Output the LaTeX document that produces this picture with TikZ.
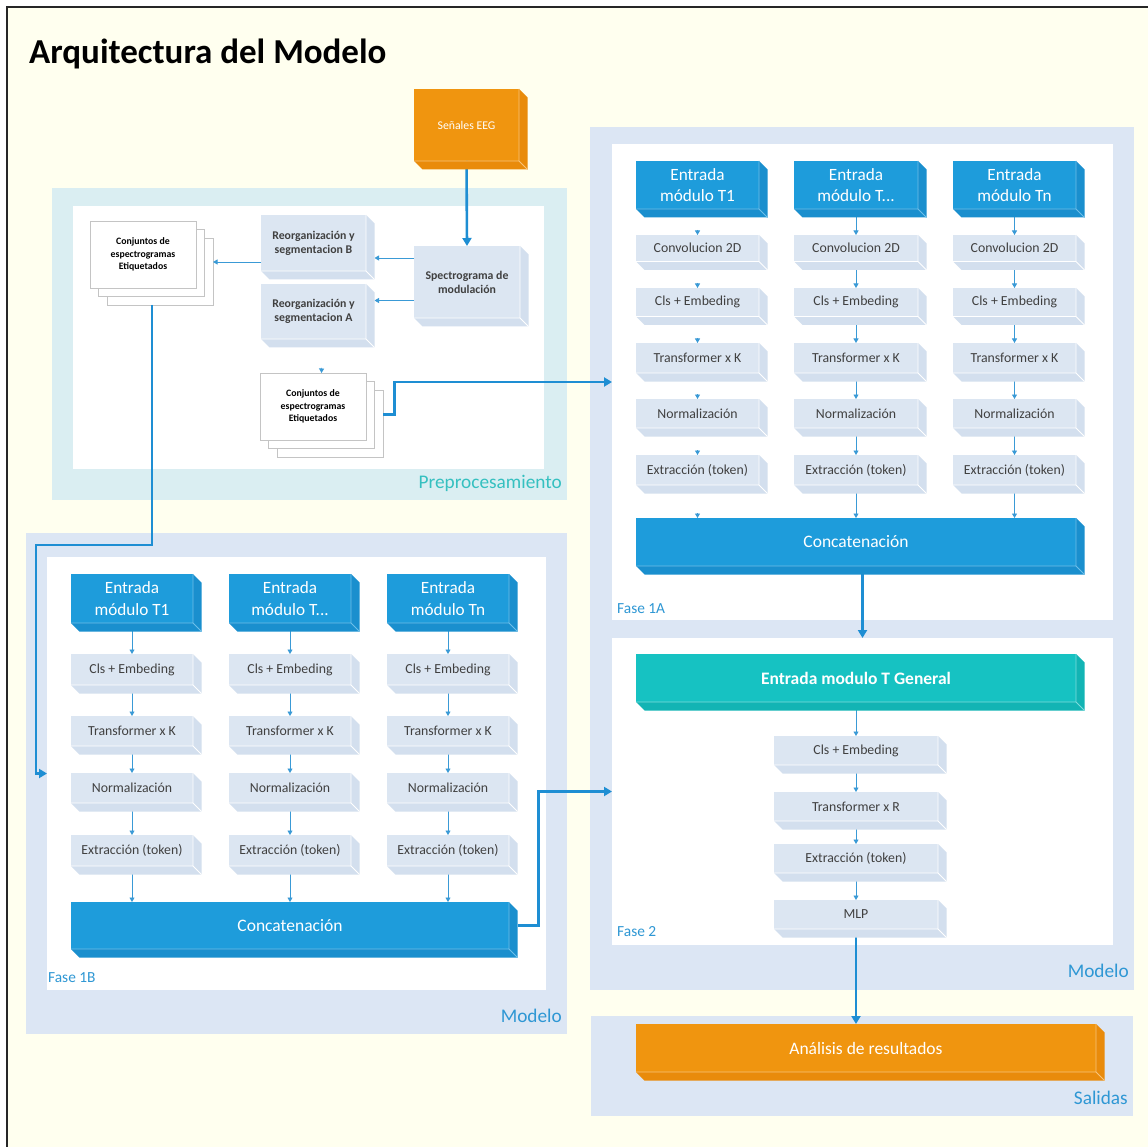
\documentclass[tikz,border=0pt]{standalone}
\usepackage{fontspec}
\setmainfont{Carlito}
\usetikzlibrary{arrows.meta,calc}

\definecolor{cream}{HTML}{FFFFEF}
\definecolor{panelblue}{HTML}{DCE6F4}
\definecolor{panelteal}{HTML}{DAEEF2}
\definecolor{lbfront}{HTML}{DCE6F2}
\definecolor{lbface}{HTML}{D3DFEE}
\definecolor{bfront}{HTML}{1E9CDB}
\definecolor{bface}{HTML}{1A8FCE}
\definecolor{bedge}{HTML}{6FBFE9}
\definecolor{ofront}{HTML}{F0950F}
\definecolor{oface}{HTML}{E98B0B}
\definecolor{oedge}{HTML}{F8C47C}
\definecolor{tfront}{HTML}{16C2C2}
\definecolor{tface}{HTML}{12B4B4}
\definecolor{tedge}{HTML}{7FDCDC}
\definecolor{arrowblue}{HTML}{1E8ED3}
\definecolor{thinblue}{HTML}{3A9AD6}
\definecolor{labelblue}{HTML}{2E97D4}
\definecolor{labelteal}{HTML}{35C0C0}
\definecolor{boxtext}{HTML}{404040}
\definecolor{sheetline}{HTML}{C4C4C4}

\tikzset{
  front/.style={rectangle, inner sep=0pt, outer sep=0pt, align=center},
  lightbox/.style={front, fill=lbfront, text=boxtext, font=\fontsize{13.8}{16}\selectfont},
  bluebox/.style={front, fill=bfront, text=white, font=\fontsize{17.2}{21.4}\selectfont},
  orangebox/.style={front, fill=ofront, text=white},
  tealbox/.style={front, fill=tfront, text=white, font=\fontsize{17.5}{21}\selectfont\bfseries},
  prebox/.style={front, fill=lbfront, text=boxtext, font=\fontsize{11.8}{14}\selectfont\bfseries},
  sheet/.style={fill=white, draw=sheetline, line width=0.7pt},
  sheetfront/.style={front, sheet, text=black, font=\fontsize{9.8}{12.3}\selectfont\bfseries},
  innerpanel/.style={front, fill=white},
  thinarr/.style={draw=thinblue, line width=0.9pt, -{Triangle[length=4.5pt,width=5pt]}},
  bigarr/.style={draw=arrowblue, line width=2.6pt, -{Triangle[length=8pt,width=9pt]}},
  tag/.style={inner sep=0pt},
  paneltag/.style={tag, text=labelblue, font=\fontsize{19.3}{23}\selectfont},
  phasetag/.style={tag, text=labelblue, font=\fontsize{15.4}{18}\selectfont},
}

% node given by its front-face corners: name, style, x0, y0, x1, y1, text
\newcommand\cornerbox[7]{%
  \node[#2, minimum width={(#5-(#3))*1pt}, minimum height={(#6-(#4))*1pt}]
    (#1) at ({(#3+#5)/2},{(#4+#6)/2}) {#7};}

% side and bottom faces of an extruded block
\newcommand\extrude[3]{%
  \fill[#2] (#1.north east) -- ++(8.5,8.5) -- ($(#1.south east)+(8.5,8.5)$)
    -- ($(#1.south west)+(8.5,8.5)$) -- (#1.south west) -- (#1.south east) -- cycle;
  \draw[#3, line width=0.8pt, line join=round] (#1.north east) -- (#1.south east)
    -- (#1.south west) (#1.south east) -- ++(8.5,8.5);}

\newcommand\tdots{T...}

\begin{document}
\begin{tikzpicture}[x=1pt,y=-1pt]
\useasboundingbox (0,0) rectangle (1148,1147);
\fill[white] (0,0) rectangle (1148,1147);
\fill[cream] (7,7) rectangle (1148,1147);
\draw[line width=1.8pt, black!85] (7,1147) -- (7,7) -- (1148,7);

% title
\node[anchor=base west, inner sep=0pt, font=\fontsize{35}{42}\selectfont\bfseries]
  (title) at (29,63.3) {Arquitectura del Modelo};

% ---------- panels ----------
\fill[panelteal] (52,188) rectangle (567,500);
\fill[white] (73,206) rectangle (544,469);
\node[anchor=base east, tag, text=labelteal, font=\fontsize{19.3}{23}\selectfont]
  (preTag) at (562,488.5) {Preprocesamiento};

\fill[panelblue] (26,533) rectangle (567,1034);
\cornerbox{f1b}{innerpanel}{47}{557}{546}{990}{}
\node[anchor=base west, phasetag] (f1bTag) at (48,982.5) {Fase 1B};
\node[anchor=base east, paneltag] (modelLTag) at (562,1022) {Modelo};

\fill[panelblue] (590,127) rectangle (1134,990);
\cornerbox{f1a}{innerpanel}{612}{144}{1113}{620}{}
\cornerbox{f2}{innerpanel}{612}{638}{1113}{945}{}
\node[anchor=base west, phasetag] (f1aTag) at (617,613) {Fase 1A};
\node[anchor=base west, phasetag] (f2Tag) at (617,936.5) {Fase 2};
\node[anchor=base east, paneltag] (modelRTag) at (1129,977.5) {Modelo};

\fill[panelblue] (591,1016) rectangle (1133,1116);
\node[anchor=base east, paneltag] (outTag) at (1128,1104) {Salidas};

% ---------- preprocessing ----------
\cornerbox{eeg}{orangebox, font=\fontsize{11.8}{14}\selectfont}{414}{89}{519}{161}{Señales EEG}
\cornerbox{spec}{prebox}{414}{246}{520}{318}{Spectrograma de\\modulación}
\cornerbox{rB}{prebox}{261}{215}{366}{271}{Reorganización y\\segmentacion B}
\cornerbox{rA}{prebox}{261}{284}{366}{339}{Reorganización y\\segmentacion A}
\draw[sheet] (107,238) rectangle (213,305);
\draw[sheet] (98.5,229.5) rectangle (204.5,296.5);
\cornerbox{cj1}{sheetfront}{90}{221}{196}{288}{Conjuntos de\\espectrogramas\\Etiquetados}
\draw[sheet] (277,390) rectangle (383,457);
\draw[sheet] (268.5,381.5) rectangle (374.5,448.5);
\cornerbox{cj2}{sheetfront}{260}{373}{366}{440}{Conjuntos de\\espectrogramas\\Etiquetados}

% ---------- phase 1A ----------
\foreach \c/\xa/\xb/\t in {1/636/759/T1,2/794/918/\tdots,3/953/1076/Tn}{
  \cornerbox{aE\c}{bluebox}{\xa}{161}{\xb}{209}{Entrada\\módulo \t}
  \cornerbox{aV\c}{lightbox}{\xa}{235}{\xb}{261.5}{Convolucion 2D}
  \cornerbox{aC\c}{lightbox}{\xa}{288}{\xb}{316.5}{Cls + Embeding}
  \cornerbox{aT\c}{lightbox}{\xa}{343}{\xb}{373}{Transformer x K}
  \cornerbox{aN\c}{lightbox}{\xa}{399}{\xb}{428}{Normalización}
  \cornerbox{aX\c}{lightbox}{\xa}{455}{\xb}{485}{Extracción (token)}
}
\cornerbox{aCat}{bluebox, font=\fontsize{17.5}{21}\selectfont}{636}{518}{1076}{566}{Concatenación}

% ---------- phase 1B ----------
\foreach \c/\xa/\xb/\t in {1/71/193/T1,2/229/351/\tdots,3/387/509/Tn}{
  \cornerbox{bE\c}{bluebox}{\xa}{574}{\xb}{623}{Entrada\\módulo \t}
  \cornerbox{bC\c}{lightbox}{\xa}{654}{\xb}{685}{Cls + Embeding}
  \cornerbox{bT\c}{lightbox}{\xa}{716}{\xb}{746}{Transformer x K}
  \cornerbox{bN\c}{lightbox}{\xa}{773}{\xb}{803}{Normalización}
  \cornerbox{bX\c}{lightbox}{\xa}{835}{\xb}{866}{Extracción (token)}
}
\cornerbox{bCat}{bluebox, font=\fontsize{17.5}{21}\selectfont}{71}{902}{509}{949}{Concatenación}

% ---------- phase 2 ----------
\cornerbox{tg}{tealbox}{636}{654}{1076}{702}{Entrada modulo T General}
\cornerbox{f2c}{lightbox}{774}{736}{938}{765}{Cls + Embeding}
\cornerbox{f2t}{lightbox}{774}{792}{938}{821}{Transformer x R}
\cornerbox{f2x}{lightbox}{774}{844}{938}{873}{Extracción (token)}
\cornerbox{mlp}{lightbox}{774}{900}{938}{929}{MLP}

% ---------- outputs ----------
\cornerbox{an}{orangebox, font=\fontsize{17.5}{21}\selectfont}{636}{1024}{1096}{1072}{Análisis de resultados}

% ---------- connectors ----------
\draw[bigarr] (eeg.south) -- (spec.north);
\draw[thinarr] ($(spec.west)+(0,-24)$) -- ($(rB.east)+(8.5,15)$);
\draw[thinarr] ($(spec.west)+(0,18.5)$) -- ($(rA.east)+(8.5,-11)$);
\draw[thinarr] ($(rB.west)+(0,19)$) -- ($(cj1.east)+(17,7.5)$);
\draw[thinarr, shorten <=20.5pt] ($(rA.south)+(8.5,8.5)$) -- ($(cj2.north)+(8.5,0)$);

\draw[bigarr] ($(cj2.east)+(17,8)$) -- ++(11.5,0) |- (f1a.west);
\draw[bigarr] ($(cj1.south)+(9,17)$) |- ($(f1b.west)+(-11,-228.5)$) |- (f1b.west);
\draw[bigarr] ($(bCat.east)+(8.5,0)$) -| ($(f2.west)+(-73.5,0)$) -- (f2.west);
\draw[bigarr] (aCat.south -| f2.north) -- (f2.north);
\draw[bigarr] (mlp.south) -- (mlp.south |- an.north);

% phase 1A, first column: only the heads show
\draw[thinarr, shorten <=21pt] (aE1.south) -- (aV1.north);
\draw[thinarr, shorten <=21.5pt] (aV1.south) -- (aC1.north);
\draw[thinarr, shorten <=21.5pt] (aC1.south) -- (aT1.north);
\draw[thinarr, shorten <=21pt] (aT1.south) -- (aN1.north);
\draw[thinarr, shorten <=22pt] (aN1.south) -- (aX1.north);
\draw[thinarr, shorten <=28pt] (aX1.south) -- (aX1.south |- aCat.north);
\foreach \c in {2,3}{
  \draw[thinarr] (aE\c.south) -- (aV\c.north);
  \draw[thinarr] (aV\c.south) -- (aC\c.north);
  \draw[thinarr] (aC\c.south) -- (aT\c.north);
  \draw[thinarr] (aT\c.south) -- (aN\c.north);
  \draw[thinarr] (aN\c.south) -- (aX\c.north);
  \draw[thinarr] (aX\c.south) -- (aX\c.south |- aCat.north);
}
\foreach \c in {1,2,3}{
  \draw[thinarr] (bE\c.south) -- (bC\c.north);
  \draw[thinarr] (bC\c.south) -- (bT\c.north);
  \draw[thinarr] (bT\c.south) -- (bN\c.north);
  \draw[thinarr] (bN\c.south) -- (bX\c.north);
  \draw[thinarr] (bX\c.south) -- (bX\c.south |- bCat.north);
}
\draw[thinarr] (tg.south) -- (f2c.north);
\draw[thinarr] (f2c.south) -- (f2t.north);
\draw[thinarr] (f2t.south) -- (f2x.north);
\draw[thinarr] (f2x.south) -- (mlp.north);

% ---------- extruded faces ----------
\extrude{eeg}{oface}{oedge}
\extrude{an}{oface}{oedge}
\extrude{tg}{tface}{tedge}
\foreach \n in {aE1,aE2,aE3,aCat,bE1,bE2,bE3,bCat}{\extrude{\n}{bface}{bedge}}
\foreach \n in {spec,rA,rB,aV1,aV2,aV3,aC1,aC2,aC3,aT1,aT2,aT3,aN1,aN2,aN3,aX1,aX2,aX3,
  bC1,bC2,bC3,bT1,bT2,bT3,bN1,bN2,bN3,bX1,bX2,bX3,f2c,f2t,f2x,mlp}{\extrude{\n}{lbface}{white}}
\end{tikzpicture}
\end{document}
